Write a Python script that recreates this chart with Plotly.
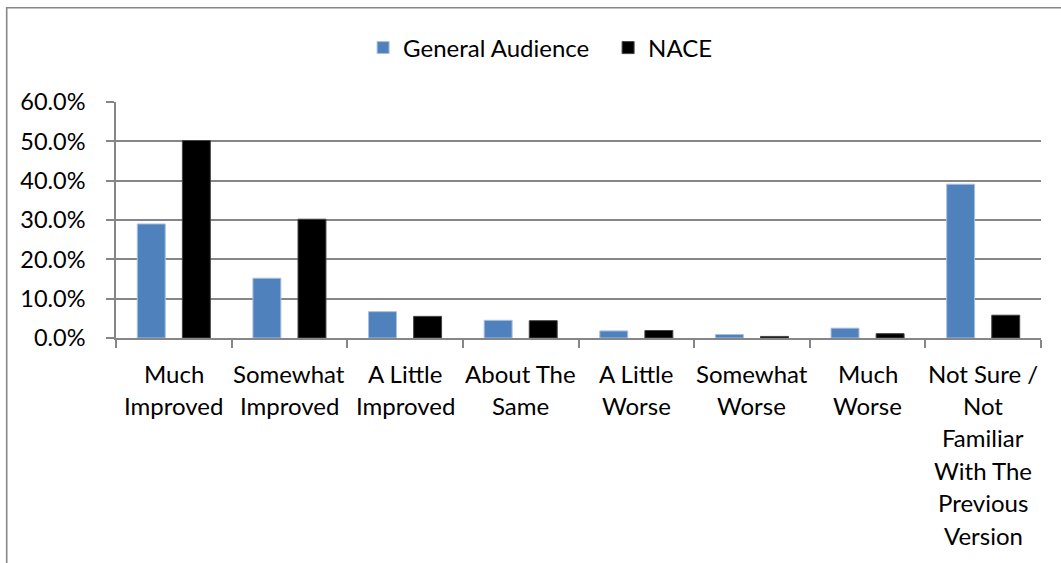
import plotly.graph_objects as go

categories = [
    "Much Improved",
    "Somewhat Improved",
    "A Little Improved",
    "About The Same",
    "A Little Worse",
    "Somewhat Worse",
    "Much Worse",
    "Not Sure / Not Familiar With The Previous Version",
]
category_lines = [
    ["Much", "Improved"],
    ["Somewhat", "Improved"],
    ["A Little", "Improved"],
    ["About The", "Same"],
    ["A Little", "Worse"],
    ["Somewhat", "Worse"],
    ["Much", "Worse"],
    ["Not Sure /", "Not", "Familiar", "With The", "Previous", "Version"],
]
general_audience = [0.290, 0.152, 0.067, 0.045, 0.018, 0.009, 0.025, 0.391]
nace = [0.502, 0.302, 0.055, 0.044, 0.019, 0.004, 0.011, 0.058]
y_ticks = [0.0, 0.1, 0.2, 0.3, 0.4, 0.5, 0.6]

W, H = 1061, 563
L, R, T, B = 116, 20, 102, 225
plot_w = W - L - R
plot_h = H - T - B

FONT = "Lato"
FS = 24
GRID = "#868686"

fig = go.Figure()
fig.add_trace(go.Bar(
    x=categories, y=general_audience, name="General Audience",
    marker=dict(color="#4F81BD", line=dict(color="#A9C1E0", width=1)),
))
fig.add_trace(go.Bar(
    x=categories, y=nace, name="NACE",
    marker=dict(color="#000000", line=dict(color="#444444", width=1)),
))

# multi-line category labels below the axis
line_gap = 32.4
for cat, lines in zip(categories, category_lines):
    for i, txt in enumerate(lines):
        fig.add_annotation(
            x=cat, y=0, xref="x", yref="paper",
            text=txt, showarrow=False,
            yanchor="middle", xanchor="center",
            yshift=-35 - i * line_gap,
            font=dict(family=FONT, size=FS, color="#000000"),
        )

# chart-area border (left and top edges visible)
bx0 = (6.7 - L) / plot_w
by0 = 1 + (T - 7.7) / plot_h
fig.add_shape(
    type="rect", xref="paper", yref="paper",
    x0=bx0, x1=(W + 10 - L) / plot_w,
    y0=-(B + 10) / plot_h, y1=by0,
    line=dict(color="#878787", width=1.6), fillcolor="rgba(0,0,0,0)",
    layer="below",
)

fig.update_layout(
    width=W, height=H,
    margin=dict(l=L, r=R, t=T, b=B),
    paper_bgcolor="white", plot_bgcolor="white",
    font=dict(family=FONT, size=FS, color="#000000"),
    barmode="group",
    bargap=0.22,
    bargroupgap=0.38,
    showlegend=True,
    legend=dict(
        orientation="h",
        x=0.532, xanchor="center",
        y=1 + (T - 48) / plot_h, yanchor="middle",
        font=dict(family=FONT, size=FS),
        itemwidth=30,
        entrywidth=200,
        traceorder="normal",
    ),
    xaxis=dict(
        showticklabels=False,
        showline=True, linecolor=GRID, linewidth=1.5,
        ticks="outside", tickson="boundaries", ticklen=8,
        tickcolor=GRID, tickwidth=1.5,
        showgrid=False,
    ),
    yaxis=dict(
        range=[0, 0.6],
        tickvals=y_ticks,
        tickformat=".1%",
        showline=True, linecolor=GRID, linewidth=1.5,
        ticks="outside", ticklen=8, tickcolor=GRID, tickwidth=1.5,
        showgrid=True, gridcolor=GRID, gridwidth=1.5,
        zeroline=False,
        ticklabelstandoff=16,
        tickfont=dict(family=FONT, size=23.5),
    ),
)

fig.write_html("out.html")
